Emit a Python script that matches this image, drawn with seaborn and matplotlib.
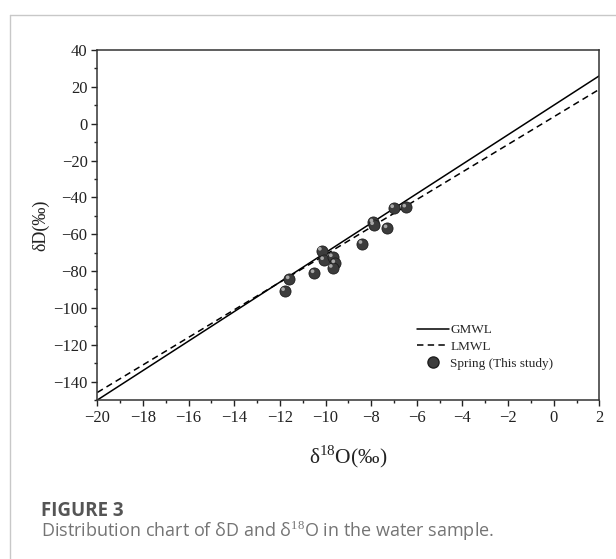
import matplotlib
matplotlib.use("Agg")
import matplotlib.pyplot as plt
import matplotlib.transforms as mtransforms
from matplotlib.lines import Line2D
import numpy as np
import pandas as pd
import seaborn as sns

# ---- data ----
d18O = [-11.78, -11.58, -10.49, -10.17, -10.07, -9.69, -9.58, -9.69,
        -8.39, -7.91, -7.88, -7.29, -7.00, -6.47]
dD = [-90.8, -84.4, -81.1, -68.9, -74.0, -72.4, -75.7, -78.2,
      -65.2, -53.5, -55.0, -56.7, -45.8, -45.5]
line_x = [-20, 2]
gmwl_slope, gmwl_intercept = 8.0, 10.0
lmwl_slope, lmwl_intercept = 7.48, 3.7
x_ticks = list(range(-20, 3, 2))
y_ticks = list(range(-140, 41, 20))

sns.set_theme(style="white")
plt.rcParams['font.family'] = ['Liberation Serif', 'DejaVu Serif']
plt.rcParams['mathtext.fontset'] = 'custom'
plt.rcParams['mathtext.rm'] = 'Liberation Serif'

fig = plt.figure(figsize=(6.16, 5.59), dpi=100)
ax = fig.add_axes([0.158, 0.2844, 0.815, 0.6262])

lines_df = pd.DataFrame({
    'x': line_x + line_x,
    'y': [gmwl_slope * v + gmwl_intercept for v in line_x] +
         [lmwl_slope * v + lmwl_intercept for v in line_x],
    'name': ['GMWL'] * 2 + ['LMWL'] * 2,
})
pts = pd.DataFrame({'x': d18O, 'y': dD})
dash = (0, (4.2, 2.8))

sns.lineplot(data=lines_df[lines_df.name == 'GMWL'], x='x', y='y', ax=ax,
             color='black', linewidth=1.1, legend=False)
sns.lineplot(data=lines_df[lines_df.name == 'LMWL'], x='x', y='y', ax=ax,
             color='black', linewidth=1.1, legend=False, linestyle=dash)
sns.scatterplot(data=pts, x='x', y='y', ax=ax, s=64, color='#3c3c3c',
                edgecolor='#1e1e1e', linewidth=0.6, zorder=5, legend=False)
hl = mtransforms.offset_copy(ax.transData, fig=fig, x=-1.8, y=1.8, units='dots')
ax.scatter(pts.x, pts.y, s=7, color='#a8a8a8', edgecolor='none', zorder=6,
           transform=hl)

ax.set_xlim(-20, 2)
ax.set_ylim(-150, 40)
ax.set_xticks(x_ticks)
ax.set_yticks(y_ticks)
ax.set_xticklabels([f"\u2212{abs(v)}" if v < 0 else str(v) for v in x_ticks])
ax.set_yticklabels([f"\u2212{abs(v)}" if v < 0 else str(v) for v in y_ticks])
ax.set_xticks(np.arange(-19, 2, 2), minor=True)
ax.set_yticks(np.arange(-150, 40, 20), minor=True)
ax.tick_params(axis='both', which='major', direction='out', length=4, width=1,
               color='#222222', labelsize=12, pad=3, bottom=True, left=True,
               labelcolor='#222222')
ax.tick_params(axis='both', which='minor', direction='out', length=2.5,
               width=1, color='#222222', bottom=True, left=True)
for sp in ax.spines.values():
    sp.set_visible(True)
    sp.set_color('#333333')
    sp.set_linewidth(1.1)

ax.set_xlabel("\u03b4$^{18}$O(\u2030)", fontsize=15.5, labelpad=13, color='#222222')
ax.set_ylabel("\u03b4D(\u2030)", fontsize=13, labelpad=3, color='#222222')

handles = [
    Line2D([0], [0], color='black', lw=1.1),
    Line2D([0], [0], color='black', lw=1.1, linestyle=dash),
    Line2D([0], [0], marker='o', color='none', markerfacecolor='#3c3c3c',
           markeredgecolor='#1e1e1e', markersize=8),
]
ax.legend(handles, ['GMWL', 'LMWL', 'Spring (This study)'], loc='lower right',
          bbox_to_anchor=(0.919, 0.071), frameon=False, fontsize=9.5,
          handlelength=2.4, handletextpad=0.1, labelspacing=0.35,
          borderaxespad=0)

# card border
fig.add_artist(Line2D([9.5 / 616, 1], [1 - 14.5 / 559] * 2,
                      transform=fig.transFigure, color='#c8c8c8', lw=1))
fig.add_artist(Line2D([9.5 / 616] * 2, [0, 1 - 14.5 / 559],
                      transform=fig.transFigure, color='#c8c8c8', lw=1))

fig.text(41 / 616, 1 - 511 / 559, "FIGURE 3", fontsize=13.5,
         fontweight='bold', color='#555555', family=['Open Sans', 'DejaVu Sans'],
         va='center', ha='left')
fig.text(41 / 616, 1 - 531 / 559,
         "Distribution chart of \u03b4D and \u03b4$^{18}$O in the water sample.",
         fontsize=13, color='#747474', family=['Open Sans', 'DejaVu Sans'],
         va='center', ha='left')

fig.savefig('out.png', dpi=100)
